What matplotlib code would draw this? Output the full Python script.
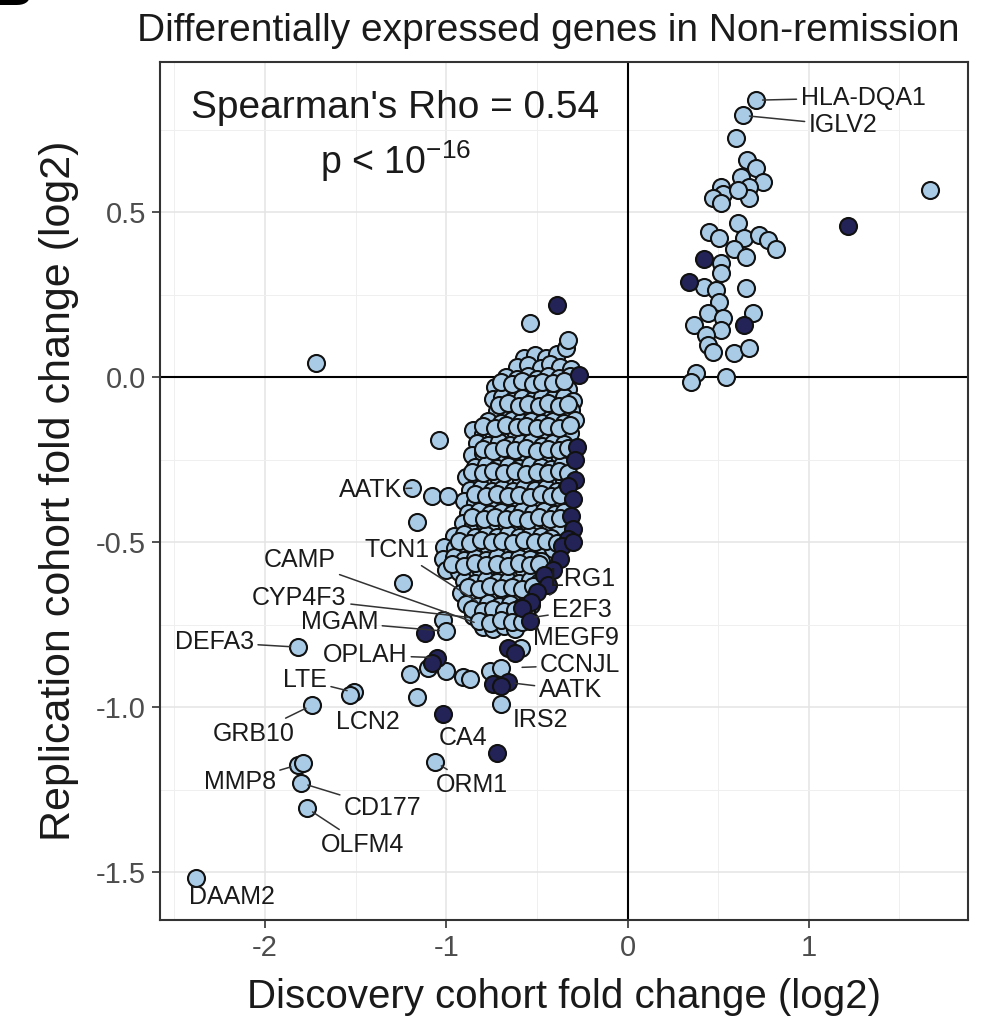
import matplotlib
matplotlib.use('Agg')
import matplotlib.pyplot as plt

plt.rcParams['font.family'] = ['Liberation Sans', 'DejaVu Sans']
plt.rcParams['mathtext.fontset'] = 'custom'
plt.rcParams['mathtext.rm'] = 'Liberation Sans'
plt.rcParams['axes.unicode_minus'] = False

# ---- data (log2 fold change: discovery, replication) ----
# dense block of down-regulated genes (light), first layer
cluster_pts = [
    (-0.57, 0.060), (-0.51, 0.068), (-0.45, 0.058), (-0.39, 0.071), (-0.34, 0.088),
    (-0.61, 0.030), (-0.55, 0.036), (-0.48, 0.028), (-0.43, 0.040), (-0.37, 0.032), (-0.31, 0.026),
    (-0.67, 0.002), (-0.61, -0.004), (-0.55, 0.005), (-0.50, -0.006), (-0.44, 0.003), (-0.38, -0.002), (-0.32, 0.004),
    (-0.73, -0.028), (-0.67, -0.035), (-0.62, -0.026), (-0.56, -0.033), (-0.50, -0.027), (-0.45, -0.036), (-0.39, -0.029), (-0.33, -0.034),
    (-0.74, -0.066), (-0.69, -0.060), (-0.63, -0.070), (-0.58, -0.062), (-0.52, -0.068), (-0.47, -0.059), (-0.41, -0.067), (-0.35, -0.061), (-0.30, -0.072),
    (-0.72, -0.102), (-0.66, -0.097), (-0.60, -0.106), (-0.55, -0.099), (-0.49, -0.104), (-0.43, -0.096), (-0.37, -0.103), (-0.31, -0.098),
    (-0.77, -0.133), (-0.70, -0.139), (-0.64, -0.130), (-0.59, -0.137), (-0.53, -0.131), (-0.47, -0.140), (-0.41, -0.132), (-0.35, -0.138), (-0.29, -0.129),
    (-0.85, -0.160), (-0.80, -0.172), (-0.74, -0.165), (-0.68, -0.171), (-0.62, -0.163), (-0.56, -0.169), (-0.50, -0.161), (-0.44, -0.173), (-0.38, -0.166), (-0.32, -0.170),
    (-0.83, -0.198), (-0.77, -0.204), (-0.71, -0.196), (-0.65, -0.206), (-0.59, -0.200), (-0.53, -0.195), (-0.47, -0.207), (-0.41, -0.199), (-0.35, -0.203),
    (-0.86, -0.236), (-0.80, -0.231), (-0.74, -0.240), (-0.68, -0.233), (-0.62, -0.238), (-0.56, -0.230), (-0.50, -0.239), (-0.44, -0.232), (-0.38, -0.237), (-0.32, -0.234),
    (-0.84, -0.272), (-0.78, -0.266), (-0.72, -0.275), (-0.66, -0.268), (-0.60, -0.274), (-0.54, -0.265), (-0.48, -0.271), (-0.42, -0.277), (-0.36, -0.267),
    (-0.89, -0.303), (-0.83, -0.309), (-0.77, -0.300), (-0.71, -0.308), (-0.65, -0.302), (-0.59, -0.310), (-0.53, -0.301), (-0.47, -0.307), (-0.41, -0.304), (-0.35, -0.311),
    (-0.87, -0.342), (-0.81, -0.336), (-0.75, -0.345), (-0.69, -0.338), (-0.63, -0.344), (-0.57, -0.335), (-0.51, -0.343), (-0.45, -0.337), (-0.39, -0.346), (-0.34, -0.339),
    (-0.90, -0.374), (-0.84, -0.380), (-0.78, -0.371), (-0.72, -0.378), (-0.66, -0.373), (-0.60, -0.381), (-0.54, -0.372), (-0.48, -0.379), (-0.42, -0.370), (-0.36, -0.377),
    (-0.88, -0.411), (-0.82, -0.405), (-0.76, -0.414), (-0.70, -0.407), (-0.64, -0.413), (-0.58, -0.404), (-0.52, -0.412), (-0.46, -0.406), (-0.40, -0.415), (-0.35, -0.408),
    (-0.91, -0.443), (-0.85, -0.449), (-0.79, -0.440), (-0.73, -0.447), (-0.67, -0.442), (-0.61, -0.450), (-0.55, -0.441), (-0.49, -0.448), (-0.43, -0.444), (-0.38, -0.451),
    (-0.96, -0.482), (-0.90, -0.476), (-0.84, -0.485), (-0.78, -0.478), (-0.72, -0.483), (-0.66, -0.475), (-0.60, -0.484), (-0.54, -0.477), (-0.48, -0.481), (-0.42, -0.486),
    (-1.01, -0.513), (-0.95, -0.519), (-0.89, -0.510), (-0.83, -0.517), (-0.77, -0.512), (-0.71, -0.520), (-0.65, -0.511), (-0.59, -0.518), (-0.53, -0.514), (-0.47, -0.509), (-0.41, -0.521),
    (-1.02, -0.552), (-0.96, -0.546), (-0.90, -0.555), (-0.84, -0.548), (-0.78, -0.553), (-0.72, -0.545), (-0.66, -0.554), (-0.60, -0.547), (-0.54, -0.551), (-0.48, -0.556),
    (-1.00, -0.583), (-0.93, -0.589), (-0.87, -0.580), (-0.81, -0.587), (-0.75, -0.582), (-0.69, -0.590), (-0.63, -0.581), (-0.57, -0.588), (-0.51, -0.584),
    (-0.90, -0.618), (-0.84, -0.624), (-0.78, -0.615), (-0.72, -0.622), (-0.66, -0.617), (-0.60, -0.625), (-0.54, -0.616), (-0.49, -0.621),
    (-0.92, -0.653), (-0.86, -0.659), (-0.80, -0.650), (-0.74, -0.657), (-0.68, -0.652), (-0.62, -0.660), (-0.56, -0.651),
    (-0.89, -0.688), (-0.83, -0.694), (-0.77, -0.685), (-0.71, -0.692), (-0.65, -0.687), (-0.59, -0.695), (-0.53, -0.689),
    (-0.85, -0.723), (-0.79, -0.729), (-0.73, -0.720), (-0.67, -0.727), (-0.61, -0.722), (-0.56, -0.730),
    (-0.80, -0.758), (-0.74, -0.764), (-0.68, -0.755), (-0.62, -0.762),
]

# dense block, second layer (drawn over the first)
cluster_back_pts = [
    (-0.70, -0.013), (-0.64, -0.019), (-0.58, -0.011), (-0.52, -0.020), (-0.47, -0.014), (-0.41, -0.018), (-0.35, -0.012),
    (-0.71, -0.085), (-0.66, -0.079), (-0.60, -0.088), (-0.55, -0.081), (-0.49, -0.086), (-0.44, -0.078), (-0.38, -0.087), (-0.33, -0.082),
    (-0.80, -0.148), (-0.73, -0.154), (-0.67, -0.146), (-0.61, -0.152), (-0.56, -0.147), (-0.50, -0.155), (-0.44, -0.149), (-0.38, -0.153), (-0.32, -0.145),
    (-0.80, -0.216), (-0.74, -0.222), (-0.68, -0.214), (-0.62, -0.220), (-0.56, -0.215), (-0.50, -0.223), (-0.44, -0.217), (-0.38, -0.221), (-0.33, -0.213),
    (-0.86, -0.286), (-0.80, -0.291), (-0.74, -0.284), (-0.68, -0.290), (-0.62, -0.285), (-0.56, -0.292), (-0.50, -0.287), (-0.44, -0.289), (-0.38, -0.283), (-0.33, -0.290),
    (-0.84, -0.355), (-0.78, -0.361), (-0.72, -0.353), (-0.66, -0.359), (-0.60, -0.356), (-0.54, -0.362), (-0.48, -0.354), (-0.42, -0.360), (-0.37, -0.357),
    (-0.86, -0.425), (-0.79, -0.431), (-0.73, -0.423), (-0.67, -0.429), (-0.61, -0.426), (-0.55, -0.432), (-0.49, -0.424), (-0.43, -0.430), (-0.37, -0.427),
    (-0.93, -0.495), (-0.87, -0.501), (-0.81, -0.493), (-0.75, -0.499), (-0.69, -0.496), (-0.63, -0.502), (-0.57, -0.494), (-0.51, -0.500), (-0.45, -0.497), (-0.39, -0.503),
    (-0.97, -0.565), (-0.90, -0.571), (-0.84, -0.563), (-0.78, -0.569), (-0.72, -0.566), (-0.66, -0.572), (-0.60, -0.564), (-0.54, -0.570), (-0.49, -0.567),
    (-0.88, -0.635), (-0.82, -0.641), (-0.76, -0.633), (-0.70, -0.639), (-0.64, -0.636), (-0.58, -0.642), (-0.52, -0.634),
    (-0.86, -0.703), (-0.80, -0.709), (-0.74, -0.701), (-0.68, -0.707), (-0.62, -0.704), (-0.56, -0.710),
    (-0.82, -0.739), (-0.76, -0.745), (-0.70, -0.737), (-0.64, -0.743), (-0.58, -0.741),
]

# scattered light points outside the dense block
outer_pts = [
    (-0.54, 0.164), (-0.326, 0.112), (-1.72, 0.042), (-1.04, -0.19),
    (-1.19, -0.336), (-1.08, -0.36), (-0.99, -0.36), (-1.16, -0.44),
    (-1.24, -0.625), (-1.02, -0.737), (-1.00, -0.77), (-1.82, -0.818),
    (-1.10, -0.88), (-1.00, -0.89), (-1.20, -0.90), (-0.91, -0.91),
    (-0.87, -0.915), (-0.76, -0.89), (-0.70, -0.88), (-0.59, -0.82),
    (-1.16, -0.97), (-1.51, -0.955), (-1.53, -0.962), (-1.74, -0.994),
    (-0.70, -0.99), (-1.82, -1.175), (-1.79, -1.17), (-1.80, -1.23),
    (-1.77, -1.306), (-2.38, -1.518), (-1.06, -1.167),
]

# up-regulated group (light)
upper_pts = [
    (0.707, 0.84), (0.635, 0.794), (0.597, 0.724), (1.67, 0.567),
    (0.66, 0.66), (0.707, 0.633), (0.624, 0.606), (0.746, 0.591), (0.668, 0.576),
    (0.514, 0.576), (0.525, 0.557), (0.47, 0.545), (0.514, 0.527), (0.668, 0.545),
    (0.608, 0.567), (0.608, 0.467), (0.448, 0.44), (0.503, 0.421), (0.641, 0.421),
    (0.724, 0.43), (0.773, 0.415), (0.818, 0.39), (0.586, 0.39), (0.652, 0.364),
    (0.514, 0.345), (0.514, 0.315), (0.42, 0.273), (0.486, 0.264), (0.652, 0.27),
    (0.503, 0.227), (0.442, 0.194), (0.525, 0.179), (0.69, 0.194), (0.365, 0.158),
    (0.514, 0.142), (0.431, 0.127), (0.442, 0.097), (0.47, 0.076), (0.586, 0.073),
    (0.668, 0.088), (0.376, 0.012), (0.348, -0.015), (0.541, 0.0),
]

# dark points
dark_pts = [
    (-0.39, 0.218), (-0.265, 0.006), (-0.28, -0.21), (-0.29, -0.25), (-0.29, -0.31),
    (-0.33, -0.33), (-0.30, -0.37), (-0.31, -0.42), (-0.30, -0.46), (-0.33, -0.49),
    (-0.36, -0.51), (-0.30, -0.50), (-0.37, -0.55), (-0.41, -0.585), (-0.46, -0.60),
    (-0.44, -0.63), (-0.50, -0.65), (-0.53, -0.68), (-0.58, -0.70), (-0.54, -0.74),
    (-0.66, -0.82), (-0.62, -0.835), (-0.74, -0.93), (-0.66, -0.925), (-0.70, -0.935),
    (-1.115, -0.776), (-1.05, -0.85), (-1.08, -0.865), (-1.02, -1.02), (-0.72, -1.14),
    (0.42, 0.36), (0.337, 0.288), (0.641, 0.158), (1.215, 0.46),
]

# gene labels: name, text position, labelled point, draw segment
gene_names = ['HLA-DQA1', 'IGLV2', 'AATK', 'TCN1', 'CAMP', 'CYP4F3', 'MGAM', 'DEFA3',
              'OPLAH', 'LTE', 'LCN2', 'GRB10', 'MMP8', 'CD177', 'OLFM4', 'DAAM2',
              'ORM1', 'CA4', 'IRS2', 'AATK', 'CCNJL', 'MEGF9', 'E2F3', 'LRG1']
text_x = [1.30, 1.19, -1.42, -1.27, -1.81, -1.81, -1.59, -2.28,
          -1.45, -1.78, -1.43, -2.06, -2.14, -1.35, -1.46, -2.18,
          -0.856, -0.91, -0.48, -0.315, -0.26, -0.287, -0.25, -0.25]
text_y = [0.848, 0.764, -0.342, -0.524, -0.555, -0.67, -0.742, -0.803,
          -0.842, -0.918, -1.045, -1.08, -1.227, -1.306, -1.418, -1.576,
          -1.236, -1.094, -1.04, -0.948, -0.873, -0.79, -0.706, -0.61]
gene_x = [0.707, 0.635, -1.19, -0.80, -0.81, -0.84, -1.00, -1.82,
          -1.05, -1.51, -1.52, -1.74, -1.82, -1.80, -1.77, -2.38,
          -1.06, -0.72, -0.70, -0.66, -0.62, -0.59, -0.55, -0.43]
gene_y = [0.84, 0.794, -0.336, -0.69, -0.75, -0.73, -0.77, -0.818,
          -0.85, -0.955, -0.96, -0.994, -1.175, -1.23, -1.306, -1.518,
          -1.167, -1.14, -0.99, -0.925, -0.88, -0.82, -0.73, -0.66]
has_segment = [True, True, True, True, True, True, True, True,
               True, True, False, True, True, True, True, False,
               True, False, False, True, True, False, True, True]

light_col = '#a9cbe6'
dark_col = '#232358'

fig = plt.figure(figsize=(9.81, 10.21), dpi=100)
ax = fig.add_axes([0.163, 0.099, 0.824, 0.840])

ax.set_xlim(-2.58, 1.88)
ax.set_ylim(-1.645, 0.955)
ax.set_xticks([-2, -1, 0, 1])
ax.set_xticks([-2.5, -1.5, -0.5, 0.5, 1.5], minor=True)
ax.set_yticks([-1.5, -1.0, -0.5, 0.0, 0.5])
ax.set_yticklabels(['-1.5', '-1.0', '-0.5', '0.0', '0.5'])
ax.set_yticks([-1.25, -0.75, -0.25, 0.25, 0.75], minor=True)
ax.grid(which='major', color='#e4e4e4', lw=1.1, zorder=0)
ax.grid(which='minor', color='#efefef', lw=0.7, zorder=0)
ax.set_axisbelow(True)
ax.tick_params(which='major', length=6, width=1.2, color='#333333',
               labelsize=21, labelcolor='#4d4d4d', pad=4)
ax.tick_params(which='minor', length=0)
for s in ax.spines.values():
    s.set_color('#333333')
    s.set_linewidth(1.5)

ax.axhline(0, color='black', lw=1.5, zorder=1)
ax.axvline(0, color='black', lw=1.5, zorder=1)

pt_size = 150
for pts, col in [(cluster_pts, light_col), (cluster_back_pts, light_col),
                 (outer_pts, light_col), (upper_pts, light_col), (dark_pts, dark_col)]:
    xs = [p[0] for p in pts]
    ys = [p[1] for p in pts]
    ax.scatter(xs, ys, s=pt_size, c=col, edgecolors='#111111', linewidths=1.5, zorder=3)

for name, tx, ty, gx, gy, seg in zip(gene_names, text_x, text_y, gene_x, gene_y, has_segment):
    if seg:
        ax.annotate(name, xy=(gx, gy), xytext=(tx, ty), ha='center', va='center',
                    fontsize=18, color='#1a1a1a', zorder=4,
                    arrowprops=dict(arrowstyle='-', color='#333333', lw=1.1,
                                    shrinkA=1, shrinkB=5))
    else:
        ax.text(tx, ty, name, ha='center', va='center', fontsize=18,
                color='#1a1a1a', zorder=4)

ax.text(-1.28, 0.815, "Spearman's Rho = 0.54", ha='center', va='center',
        fontsize=28, color='#1a1a1a', zorder=5)
ax.text(-1.28, 0.655, r'p < 10$^{\mathregular{-16}}$', ha='center', va='center',
        fontsize=27, color='#1a1a1a', zorder=5)

ax.set_xlabel('Discovery cohort fold change (log2)', fontsize=29, color='#1a1a1a', labelpad=12)
ax.set_ylabel('Replication cohort fold change (log2)', fontsize=31, color='#1a1a1a', labelpad=12)

fig.text(0.559, 0.970, 'Differentially expressed genes in Non-remission',
         ha='center', va='center', fontsize=28, color='#1a1a1a')
fig.text(-0.004, 1.008, 'B', ha='left', va='center', fontsize=36,
         fontweight='bold', color='black')

fig.savefig('out.png', dpi=100)
